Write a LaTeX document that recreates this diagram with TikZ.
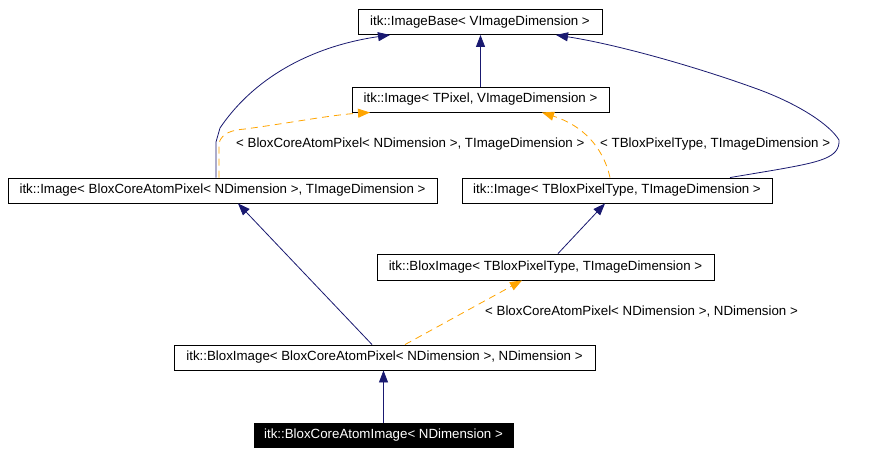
\documentclass[tikz,border=0pt]{standalone}
\usepackage{fontspec}
\setmainfont{Liberation Sans}
\usetikzlibrary{arrows.meta}
\definecolor{edgeblue}{HTML}{191970}
\definecolor{edgeorange}{HTML}{FFA500}
\begin{document}
\begin{tikzpicture}[x=1pt,y=-1pt,
  cls/.style={draw=black,line width=0.9pt,fill=white,inner sep=0pt,
    font=\fontsize{13.3}{15}\selectfont,anchor=center},
  inh/.style={draw=edgeblue,line width=0.8pt,-{Triangle[length=12pt,width=9pt]}},
  tmpl/.style={draw=edgeorange,line width=0.8pt,dash pattern=on 7pt off 5pt,
    -{Triangle[length=12pt,width=9pt]}},
  lbl/.style={font=\fontsize{13.3}{15}\selectfont,anchor=west,inner sep=0pt}]
\useasboundingbox[fill=white] (0,0) rectangle (882,455);

\node[cls,minimum width=244pt,minimum height=25pt] (base) at (480,22) {itk::ImageBase< VImageDimension >};
\node[cls,minimum width=257pt,minimum height=25pt] (tpix) at (480.5,99.5) {itk::Image< TPixel, VImageDimension >};
\node[cls,minimum width=429pt,minimum height=25pt] (imgA) at (222.5,190.5) {itk::Image< BloxCoreAtomPixel< NDimension >, TImageDimension >};
\node[cls,minimum width=310pt,minimum height=25pt] (imgB) at (617,190.5) {itk::Image< TBloxPixelType, TImageDimension >};
\node[cls,minimum width=337pt,minimum height=26pt] (bloxB) at (545.5,267) {itk::BloxImage< TBloxPixelType, TImageDimension >};
\node[cls,minimum width=421pt,minimum height=25pt] (bloxA) at (384.5,357.5) {itk::BloxImage< BloxCoreAtomPixel< NDimension >, NDimension >};
\node[cls,fill=black,text=white,minimum width=259pt,minimum height=24pt] (core) at (383.5,435.5) {itk::BloxCoreAtomImage< NDimension >};

% inheritance
\draw[inh] (tpix.north) -- (tpix.north |- base.south);
\draw[inh] ([xshift=-6.5pt]imgA.north) -- (216,142) -- (220,128)
  .. controls (258,72) and (320,45) .. ([xshift=-90pt]base.south);
\draw[inh] ([xshift=113pt]imgB.north) -- (775,170)
  .. controls (820,162) and (840,158) .. (839,140)
  .. controls (830,125) and (800,105) .. (760,90)
  .. controls (700,68) and (620,45) .. ([xshift=76pt]base.south);
\draw[inh] ([xshift=12.5pt]bloxB.north) -- ([xshift=-12pt]imgB.south);
\draw[inh] ([xshift=-12.5pt]bloxA.north) -- ([xshift=15.5pt]imgA.south);
\draw[inh] (core.north) -- (core.north |- bloxA.south);

% template instantiation
\draw[tmpl] ([xshift=-3.5pt]imgA.north) -- (219,143)
  .. controls (222,133) and (232,130) .. (245,129)
  .. controls (290,123) and (330,115) .. ([xshift=-110.5pt]tpix.south);
\draw[tmpl] ([xshift=-7pt]imgB.north)
  .. controls (605,155) and (590,128) .. ([xshift=61.5pt]tpix.south);
\draw[tmpl] ([xshift=20.5pt]bloxA.north) -- ([xshift=-23.5pt]bloxB.south);

\node[lbl] (l1) at (236,144) {< BloxCoreAtomPixel< NDimension >, TImageDimension >};
\node[lbl] (l2) at (600,144) {< TBloxPixelType, TImageDimension >};
\node[lbl] (l3) at (485,312) {< BloxCoreAtomPixel< NDimension >, NDimension >};
\end{tikzpicture}
\end{document}
